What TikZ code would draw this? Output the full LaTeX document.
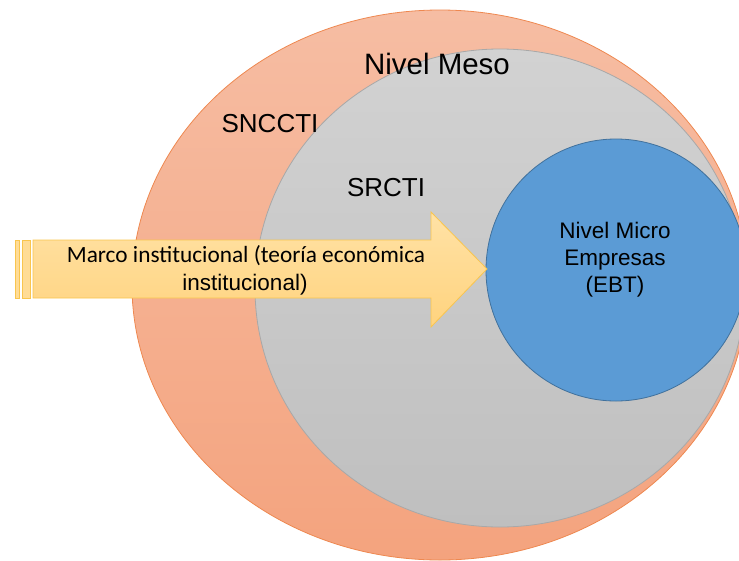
\documentclass[tikz,border=0pt]{standalone}
\usepackage{fontspec}
\setmainfont{Liberation Sans}
\newfontfamily\calib{Carlito}
\usetikzlibrary{shapes.geometric}
\definecolor{orTop}{HTML}{F6BDA3}
\definecolor{orBot}{HTML}{F4A37E}
\definecolor{orLine}{HTML}{EE8850}
\definecolor{grTop}{HTML}{D2D2D2}
\definecolor{grBot}{HTML}{BFBFBF}
\definecolor{grLine}{HTML}{A8A8A8}
\definecolor{blFill}{HTML}{5B9BD5}
\definecolor{blLine}{HTML}{41719C}
\definecolor{arTop}{HTML}{FFE2A6}
\definecolor{arBot}{HTML}{FFD37E}
\definecolor{arLine}{HTML}{F9C54E}
\tikzset{
  blob/.style={ellipse, inner sep=0pt, outer sep=0pt},
  lbl/.style={anchor=base, inner sep=0pt, text=black},
}
\begin{document}
\begin{tikzpicture}[x=1pt,y=-1pt]
\useasboundingbox (0,0) rectangle (739,560);
\clip (0,0) rectangle (739,560);
% outer ellipse
\node[blob, minimum width=616pt, minimum height=550pt, draw=orLine, line width=0.8pt,
      top color=orTop, bottom color=orBot] (outer) at (440,285) {};
% gray ellipse
\node[blob, minimum width=490pt, minimum height=478pt, draw=grLine, line width=0.8pt,
      top color=grTop, bottom color=grBot] (meso) at (500,288) {};
% blue circle
\node[blob, minimum width=260pt, minimum height=262pt, draw=blLine, line width=0.8pt,
      fill=blFill] (micro) at (616,270) {};
% arrow stripes
\fill[arTop!60!arBot, draw=arLine, line width=0.6pt] (15,240) rectangle (19,298);
\fill[arTop!60!arBot, draw=arLine, line width=0.6pt] (22,240) rectangle (30,298);
% arrow
\coordinate (tip) at (micro.west);
\draw[arLine, line width=0.8pt, top color=arTop, bottom color=arBot]
  (33,240) -- (431,240) -- (431,212) -- (487,269) -- (431,327) -- (431,298) -- (33,298) -- cycle;
% labels
\node[lbl, font=\fontsize{29.5}{32}\selectfont] (lmeso) at (437,74) {Nivel Meso};
\node[lbl, font=\fontsize{26}{28}\selectfont] (lsnc) at (270,132) {SNCCTI};
\node[lbl, font=\fontsize{26}{28}\selectfont] (lsrc) at (386,196) {SRCTI};
\node[lbl, font=\fontsize{22.5}{25}\selectfont] (lm1) at (615,238) {Nivel Micro};
\node[lbl, font=\fontsize{22.5}{25}\selectfont] (lm2) at (615,265) {Empresas};
\node[lbl, font=\fontsize{22.5}{25}\selectfont] (lm3) at (615,292) {(EBT)};
\node[lbl, font=\calib\fontsize{23.3}{25}\selectfont] (la1) at (246,262) {Marco institucional (teoría económica};
\node[lbl, font=\fontsize{22.5}{25}\selectfont] (la2) at (245,290) {institucional)};
\end{tikzpicture}
\end{document}
